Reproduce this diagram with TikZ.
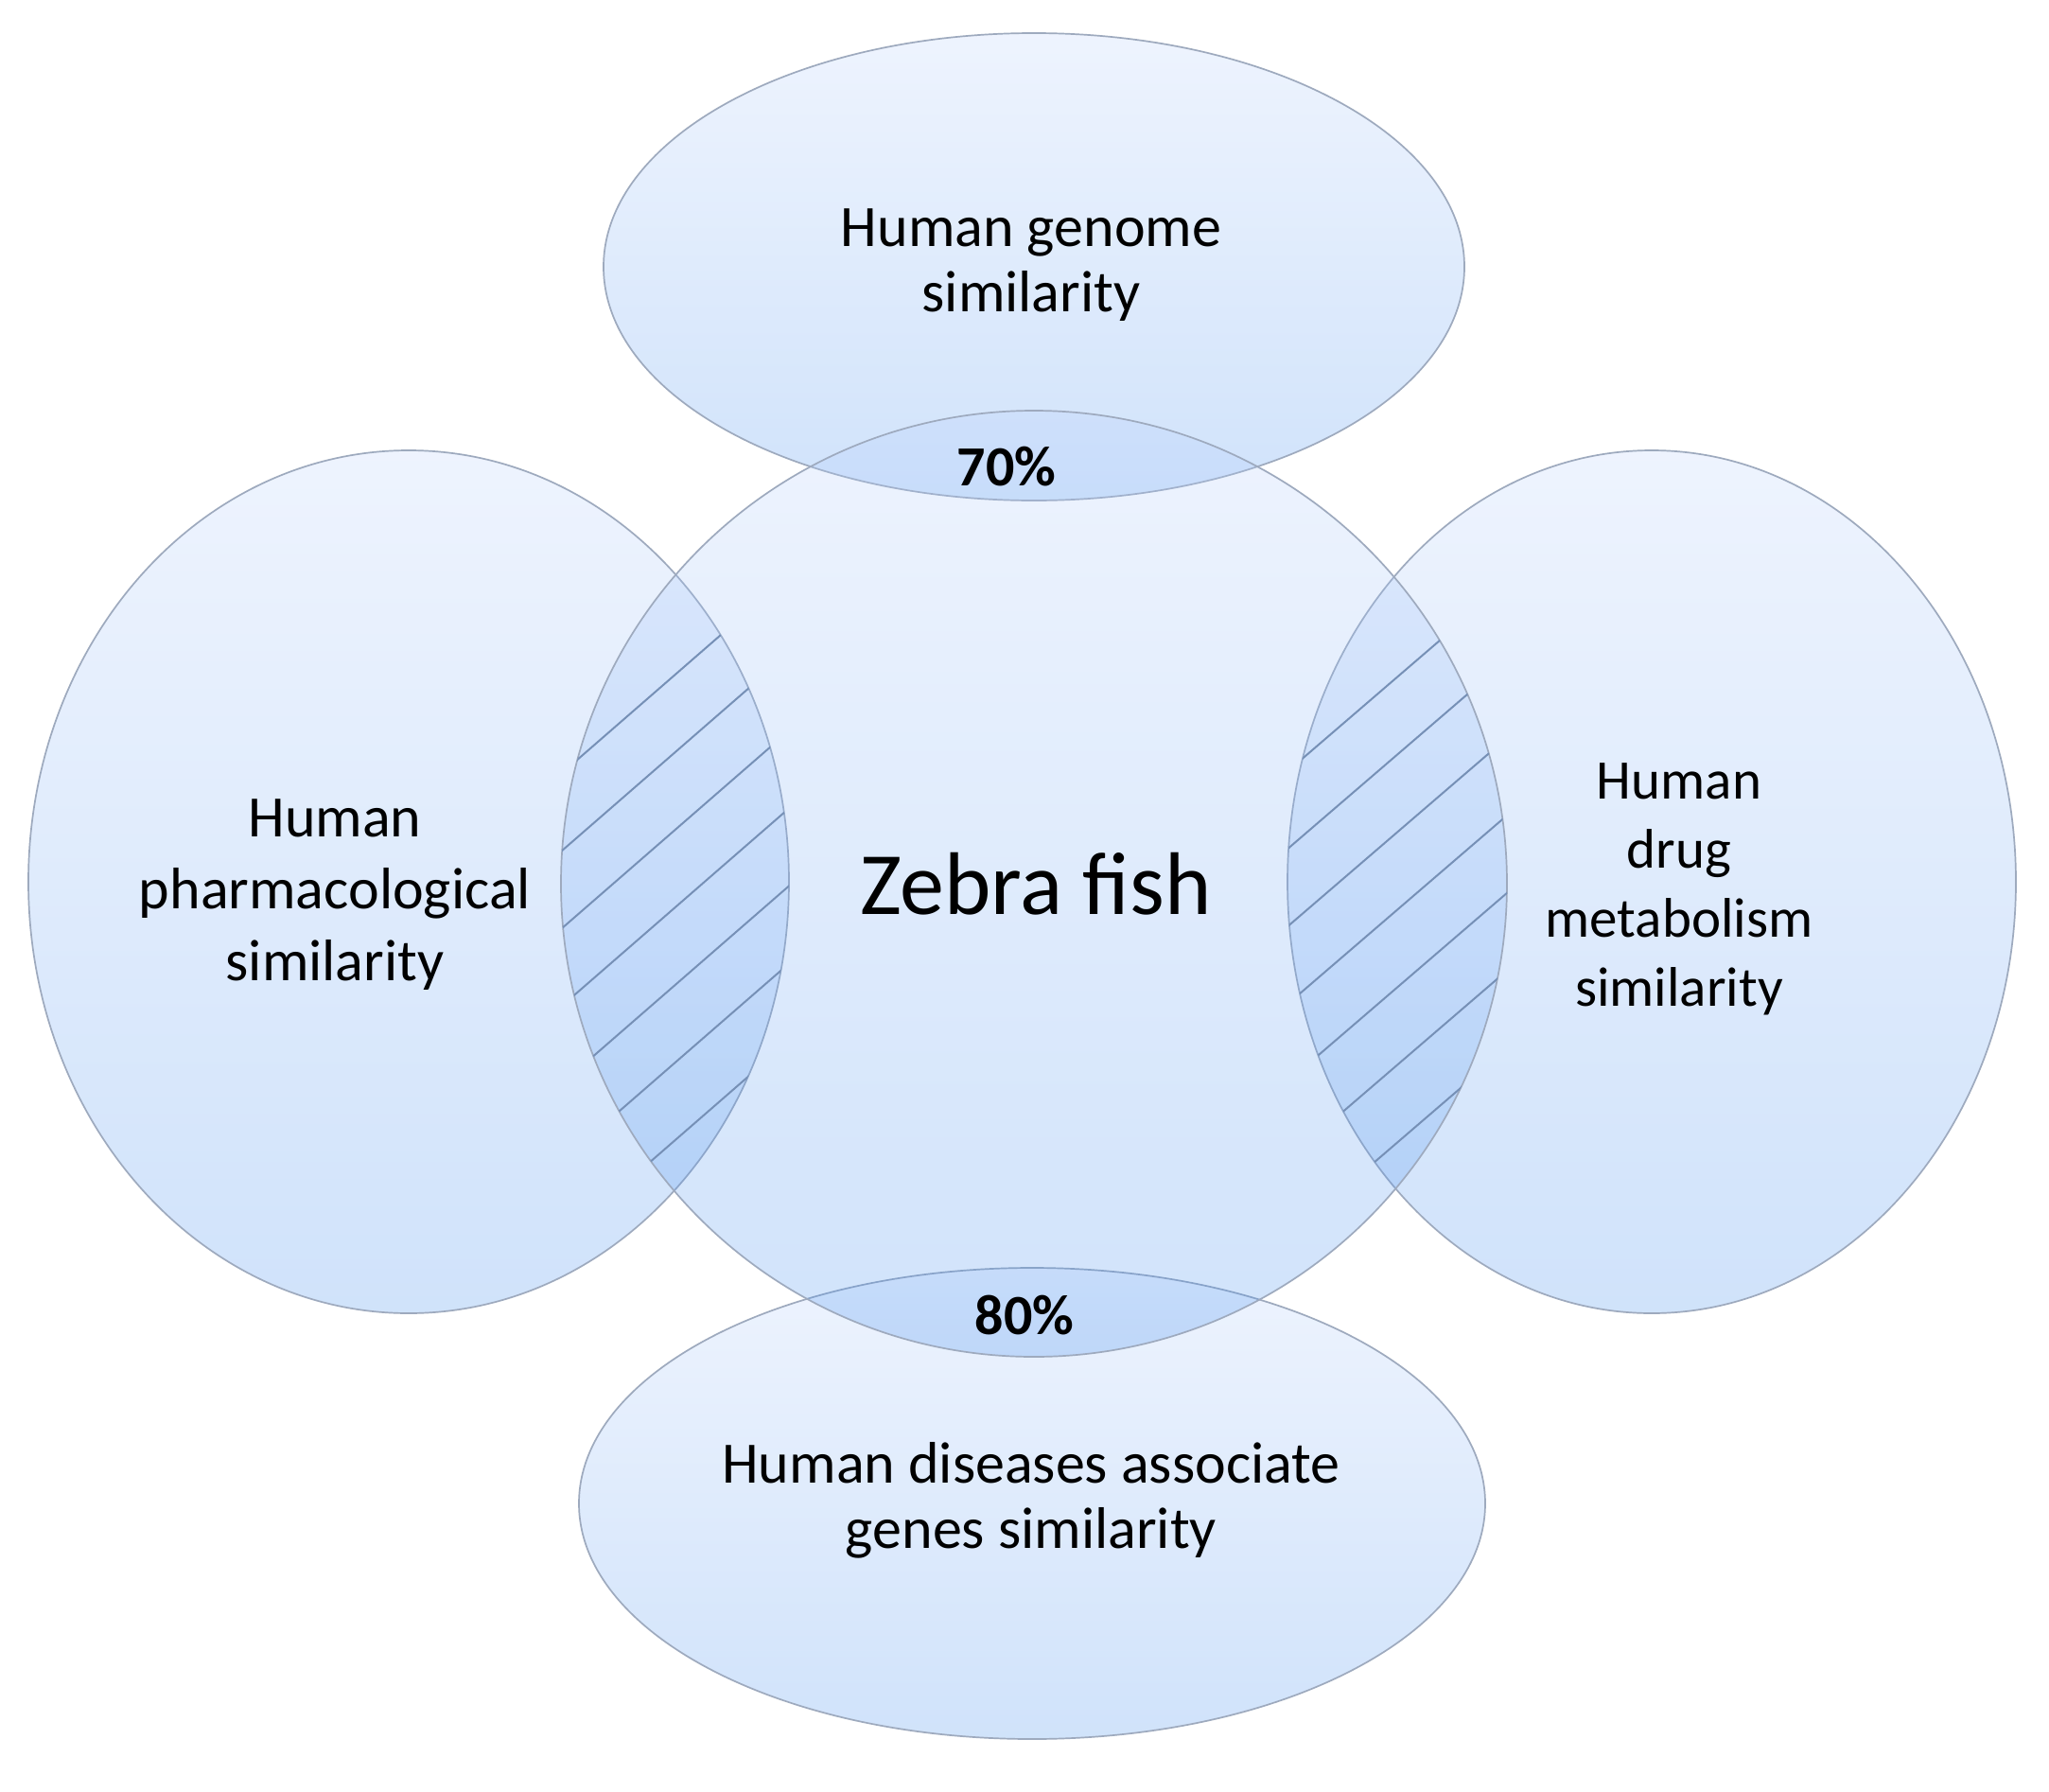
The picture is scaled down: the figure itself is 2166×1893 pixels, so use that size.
\documentclass[tikz,border=0pt]{standalone}
\usepackage{fontspec}
\setmainfont{Carlito}
\definecolor{shtop}{RGB}{185,209,252}
\definecolor{shbot}{RGB}{60,138,238}
\definecolor{edgec}{RGB}{158,170,190}
\definecolor{hatchc}{RGB}{118,144,182}
\begin{document}
\begin{tikzpicture}[x=1pt,y=-1pt,
  blob/.style={draw=edgec, line width=1.7pt, top color=shtop, bottom color=shbot, fill opacity=0.24},
  hatchline/.style={draw=hatchc, line width=2pt},
  lbl/.style={align=center, font=\fontsize{62}{69}\selectfont, text=black, inner sep=0pt},
  pct/.style={font=\fontsize{60}{66}\selectfont\bfseries, text=black, inner sep=0pt}]
\useasboundingbox (0,0) rectangle (2166,1893);
\fill[white] (0,0) rectangle (2166,1893);
% shapes
\path[blob] (432,932) ellipse [x radius=402, y radius=456];
\path[blob] (1746,932) ellipse [x radius=385, y radius=456];
\path[blob] (1093,282) ellipse [x radius=455, y radius=247];
\path[blob] (1091,1589) ellipse [x radius=479, y radius=249];
\path[blob] (1093,934) circle [radius=500];
% hatching left lens
\begin{scope}
  \clip (1093,934) circle [radius=500];
  \clip (432,932) ellipse [x radius=402, y radius=456];
  \foreach \k in {0,...,6}
    \draw[hatchline] (550,{855.4+82*\k}) -- (900,{551+82*\k});
\end{scope}
% hatching right lens
\begin{scope}
  \clip (1093,934) circle [radius=500];
  \clip (1746,932) ellipse [x radius=385, y radius=456];
  \foreach \k in {0,...,6}
    \draw[hatchline] (1300,{867.8+82*\k}) -- (1650,{566.8+82*\k});
\end{scope}
% texts
\node[lbl] (genome) at (1090,280) {Human genome\\similarity};
\node[lbl, font=\fontsize{62}{76}\selectfont] (pharma) at (354,946) {Human\\pharmacological\\similarity};
\node[lbl, font=\fontsize{94}{100}\selectfont] (zebra) at (1095,934) {Zebra fish};
\node[lbl, font=\fontsize{59}{73}\selectfont] (drug) at (1775,940) {Human\\drug\\metabolism\\similarity};
\node[lbl] (disease) at (1090,1586) {Human diseases associate\\genes similarity};
\node[pct] (p70) at (1064,493) {70\%};
\node[pct] (p80) at (1083,1390) {80\%};
\end{tikzpicture}
\end{document}
